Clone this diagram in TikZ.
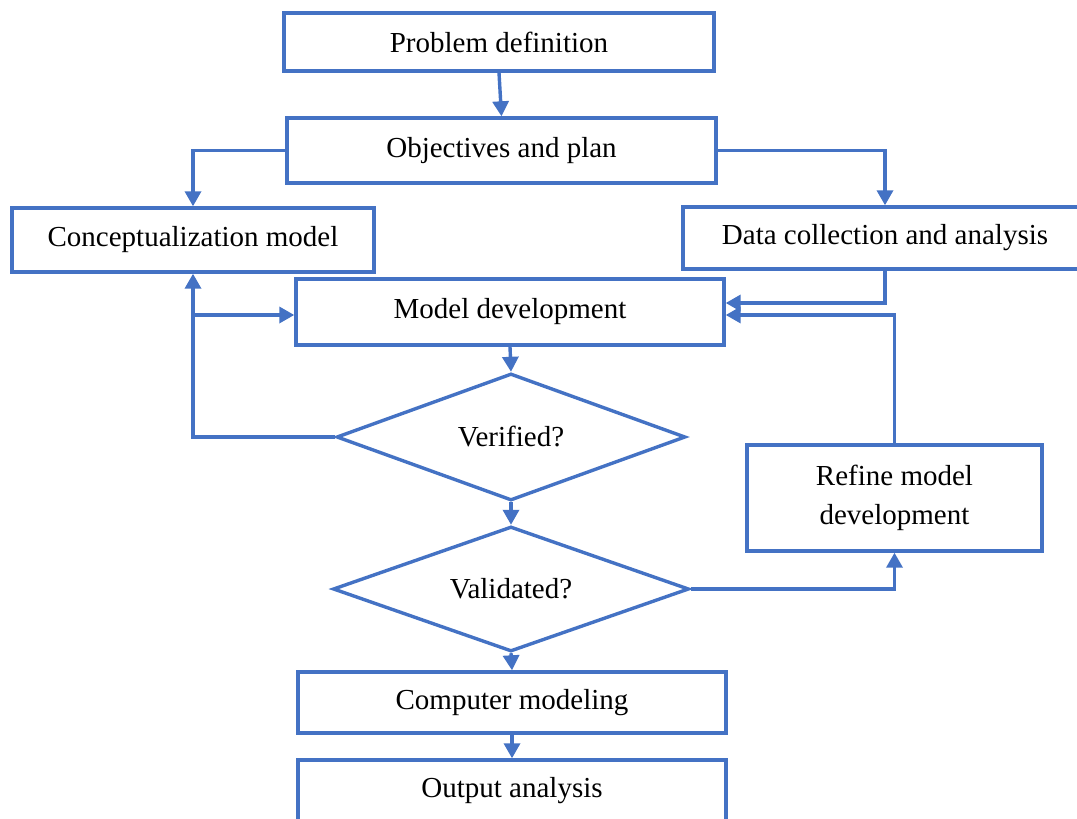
\documentclass[tikz,border=0pt]{standalone}
\usepackage{fontspec}
\setmainfont{Liberation Serif}
\usetikzlibrary{shapes.geometric,arrows.meta}
\definecolor{flowblue}{HTML}{4472C4}
\begin{document}
\begin{tikzpicture}[x=1pt,y=-1pt,
  every node/.style={font=\fontsize{29}{38.5}\selectfont, text=black},
  procbox/.style={draw=flowblue, line width=3.4pt, rectangle, inner sep=0pt, fill=white},
  decision/.style={draw=flowblue, line width=3.4pt, diamond, shape aspect=2.8, inner sep=0pt, fill=white},
  link/.style={draw=flowblue, line width=3.4pt},
  arr/.style={link, -{Triangle[length=15pt,width=16pt]}}]
  \useasboundingbox (0,0) rectangle (1077,819);
  \clip (0,0) rectangle (1077,819);
  \fill[white] (0,0) rectangle (1077,819);

  % process boxes
  \node[procbox, minimum width=430pt, minimum height=58pt] (prob) at (499,42) {Problem definition};
  \node[procbox, minimum width=429pt, minimum height=65pt] (obj) at (501.5,150.5) {Objectives and plan};
  \node[procbox, minimum width=362pt, minimum height=64pt] (conc) at (193,240) {Conceptualization model};
  \node[procbox, minimum width=404pt, minimum height=62pt] (data) at (885,238) {Data collection and analysis};
  \node[procbox, minimum width=428pt, minimum height=66pt] (mdev) at (510,312) {Model development};
  \node[procbox, minimum width=295pt, minimum height=106pt, align=center] (refine) at (894.5,498) {Refine model\\development};
  \node[procbox, minimum width=428pt, minimum height=61pt] (comp) at (512,702.5) {Computer modeling};
  \node[procbox, minimum width=428pt, minimum height=61pt] (out) at (512,790.5) {Output analysis};

  % decisions
  \node[decision, minimum width=349pt, minimum height=127pt] (verif) at (511,437) {Verified?};
  \node[decision, minimum width=356pt, minimum height=125pt] (valid) at (511,589) {Validated?};

  % connectors
  \draw[arr] (prob.south) -- (obj.north);
  \draw[arr] (obj.west) -| (conc.north);
  \draw[arr] (obj.east) -| (data.north);
  \draw[arr] (data.south) |- ([yshift=9pt]mdev.east);
  \draw[arr] (refine.north) |- ([yshift=-3pt]mdev.east);
  \path ([yshift=-3pt]mdev.west) coordinate (mdevin);
  \draw[arr] (verif.west) -| (conc.south);
  \draw[arr] (mdevin -| conc.south) -- (mdevin);
  \draw[arr] (mdev.south) -- (verif.north);
  \draw[arr] (verif.south) -- (valid.north);
  \draw[arr] (valid.east) -| (refine.south);
  \draw[arr] (valid.south) -- (comp.north);
  \draw[arr] (comp.south) -- (out.north);
\end{tikzpicture}
\end{document}
